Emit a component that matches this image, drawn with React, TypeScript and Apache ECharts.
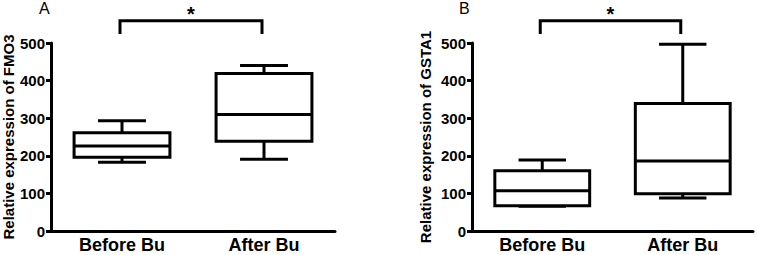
import React, { useEffect, useRef } from 'react';
import * as echarts from 'echarts';

const categories = ['Before Bu', 'After Bu'];
const yTicks = [0, 100, 200, 300, 400, 500];
// [min, Q1, median, Q3, max]
const fmo3Before = [183, 196, 226, 261, 293];
const fmo3After = [191, 239, 310, 419, 440];
const gsta1Before = [66, 67, 107, 160, 189];
const gsta1After = [88, 99, 186, 339, 497];
const panelLabels = ['A', 'B'];
const yTitles = ['Relative expression of FMO3', 'Relative expression of GSTA1'];
const sigMark = '*';
// bracket levels in value units: [horizontal bar, leg bottom, asterisk]
const bracketLevels = [559, 524, 576];

const FONT = "Arial, 'Liberation Sans', sans-serif";

const boxRender = (params: any, api: any) => {
  const idx = api.value(0);
  const v = [1, 2, 3, 4, 5].map((i) => api.value(i));
  const x = api.coord([idx, 0])[0];
  const y = v.map((val) => api.coord([idx, val])[1]);
  const band = api.size([1, 0])[0];
  const bw = band * 0.675;
  const cw = bw / 2;
  const ls = { stroke: '#000', lineWidth: 3, fill: 'none' };
  return {
    type: 'group',
    children: [
      { type: 'line', shape: { x1: x, y1: y[3], x2: x, y2: y[4] }, style: ls },
      { type: 'line', shape: { x1: x, y1: y[1], x2: x, y2: y[0] }, style: ls },
      { type: 'line', shape: { x1: x - cw / 2, y1: y[4], x2: x + cw / 2, y2: y[4] }, style: ls },
      { type: 'line', shape: { x1: x - cw / 2, y1: y[0], x2: x + cw / 2, y2: y[0] }, style: ls },
      { type: 'rect', shape: { x: x - bw / 2, y: y[3], width: bw, height: y[1] - y[3] }, style: { stroke: '#000', lineWidth: 3, fill: '#fff' } },
      { type: 'line', shape: { x1: x - bw / 2, y1: y[2], x2: x + bw / 2, y2: y[2] }, style: ls },
    ],
  };
};

const bracketRender = (params: any, api: any) => {
  const a = api.value(0);
  const b = api.value(1);
  const xa = api.coord([a, 0])[0] - 2;
  const xb = api.coord([b, 0])[0] - 2;
  const yTop = api.coord([a, bracketLevels[0]])[1];
  const yLeg = api.coord([a, bracketLevels[1]])[1];
  const yStar = api.coord([a, bracketLevels[2]])[1];
  const ls = { stroke: '#000', lineWidth: 3, fill: 'none' };
  return {
    type: 'group',
    children: [
      { type: 'polyline', shape: { points: [[xa, yLeg], [xa, yTop], [xb, yTop], [xb, yLeg]] }, style: ls },
      {
        type: 'text',
        x: (xa + xb) / 2,
        y: yStar,
        style: { text: sigMark, font: `bold 20px ${FONT}`, fill: '#000', align: 'center', verticalAlign: 'middle' },
      },
    ],
  };
};

const makeAxes = (gi: number, nameGap: number) => ({
  x: {
    type: 'category',
    gridIndex: gi,
    data: categories,
    axisLine: { show: true, lineStyle: { color: '#000', width: 3 } },
    axisTick: { show: false },
    axisLabel: { color: '#000', fontFamily: FONT, fontWeight: 'bold', fontSize: 18, margin: 5, lineHeight: 18 },
    splitLine: { show: false },
  },
  y: {
    type: 'value',
    gridIndex: gi,
    min: yTicks[0],
    max: yTicks[yTicks.length - 1],
    interval: yTicks[1] - yTicks[0],
    name: yTitles[gi],
    nameLocation: 'middle',
    nameGap,
    nameTextStyle: { color: '#000', fontFamily: FONT, fontWeight: 'bold', fontSize: 15, lineHeight: 15 },
    axisLine: { show: true, lineStyle: { color: '#000', width: 3 } },
    axisTick: { show: true, length: 5, lineStyle: { color: '#000', width: 3 } },
    axisLabel: { color: '#000', fontFamily: FONT, fontWeight: 'bold', fontSize: 15, margin: 6 },
    splitLine: { show: false },
  },
});

export default function App() {
  const ref = useRef<HTMLDivElement>(null);
  useEffect(() => {
    if (!ref.current) return;
    const chart = echarts.init(ref.current, null, { renderer: 'svg' });
    const axA = makeAxes(0, 35);
    const axB = makeAxes(1, 39);
    chart.setOption({
      animation: false,
      backgroundColor: '#fff',
      grid: [
        { left: 51, top: 43, width: 284, bottom: 24, containLabel: false, outerBoundsMode: 'none' },
        { left: 472, top: 43, width: 281, bottom: 24, containLabel: false, outerBoundsMode: 'none' },
      ],
      xAxis: [axA.x, axB.x],
      yAxis: [axA.y, axB.y],
      graphic: [
        { type: 'text', left: 39, top: 0, style: { text: panelLabels[0], font: `16px ${FONT}`, fill: '#000' } },
        { type: 'text', left: 459, top: 0, style: { text: panelLabels[1], font: `16px ${FONT}`, fill: '#000' } },
      ],
      series: [
        {
          type: 'custom', xAxisIndex: 0, yAxisIndex: 0, clip: false,
          renderItem: boxRender,
          data: [[0, ...fmo3Before], [1, ...fmo3After]],
        },
        {
          type: 'custom', xAxisIndex: 1, yAxisIndex: 1, clip: false,
          renderItem: boxRender,
          data: [[0, ...gsta1Before], [1, ...gsta1After]],
        },
        {
          type: 'custom', xAxisIndex: 0, yAxisIndex: 0, clip: false,
          renderItem: bracketRender,
          data: [[0, 1]],
        },
        {
          type: 'custom', xAxisIndex: 1, yAxisIndex: 1, clip: false,
          renderItem: bracketRender,
          data: [[0, 1]],
        },
      ],
    });
    return () => chart.dispose();
  }, []);
  return <div ref={ref} style={{ position: 'absolute', left: 0, top: 0, width: 757, height: 255 }} />;
}
